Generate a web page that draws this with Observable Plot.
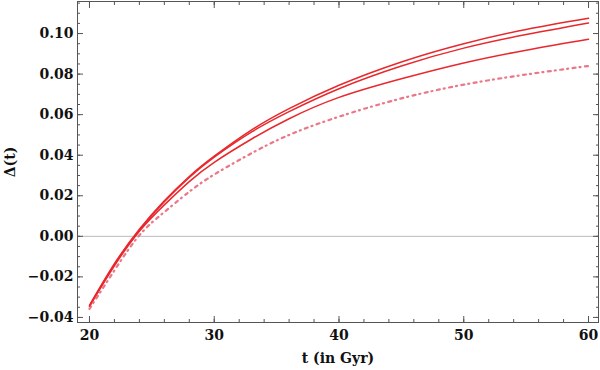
<!DOCTYPE html>
<html>
<head>
<meta charset="utf-8">
<script src="https://cdn.jsdelivr.net/npm/d3@7"></script>
<script src="https://cdn.jsdelivr.net/npm/@observablehq/plot@0.6"></script>
<style>
  html, body { margin: 0; padding: 0; background: #fff; }
</style>
</head>
<body>
<div id="chart"></div>
<script>
const tValues = [20, 22, 24, 26, 28, 30, 33, 36, 40, 45, 50, 55, 60];
const series1 = [-0.034, -0.0135, 0.0035, 0.0175, 0.0295, 0.0395, 0.0525, 0.063, 0.0745, 0.086, 0.0950, 0.1020, 0.1075];
const series2 = [-0.0345, -0.014, 0.003, 0.017, 0.029, 0.039, 0.0515, 0.0615, 0.0728, 0.084, 0.0928, 0.0995, 0.1052];
const series3 = [-0.0345, -0.0145, 0.0025, 0.0155, 0.027, 0.0365, 0.048, 0.058, 0.0685, 0.0777, 0.0855, 0.0918, 0.0972];
const series4 = [-0.0358, -0.0168, 0.0005, 0.012, 0.022, 0.0305, 0.041, 0.050, 0.059, 0.068, 0.0748, 0.0798, 0.0840];
const xMajor = [20, 30, 40, 50, 60];
const xMinor = [20, 22, 24, 26, 28, 30, 32, 34, 36, 38, 40, 42, 44, 46, 48, 50, 52, 54, 56, 58, 60];
const yMajor = [-0.04, -0.02, 0, 0.02, 0.04, 0.06, 0.08, 0.10];
const yMinor = d3.range(-0.04, 0.1151, 0.005).map(v => +v.toFixed(3));
const xLabel = "t (in Gyr)";
const yLabel = "Δ(t)";

const mk = (vals) => tValues.map((t, i) => ({t, v: vals[i]}));
const solid = [series1, series2, series3].map(mk);
const dashed = mk(series4);

const red = "#e8282c";
const fmt = d => (d < 0 ? "\u2212" : "") + Math.abs(d).toFixed(2);

const chart = Plot.plot({
  width: 600,
  height: 370,
  marginLeft: 77,
  marginRight: 2,
  marginTop: 1,
  marginBottom: 48,
  style: {fontFamily: "'DejaVu Serif', serif", fontSize: "14px", fontWeight: "bold", color: "#111", background: "#fff"},
  x: {domain: [19.04, 60.8]},
  y: {domain: [-0.0425, 0.1158]},
  marks: [
    Plot.ruleY([0], {stroke: "#bbb", strokeWidth: 1}),
    // minor ticks
    Plot.axisX({anchor: "bottom", ticks: xMinor, tickSize: -3, tickFormat: () => "", label: null, stroke: "#555"}),
    Plot.axisX({anchor: "top", ticks: xMinor, tickSize: -3, tickFormat: () => "", label: null, stroke: "#555"}),
    Plot.axisY({anchor: "left", ticks: yMinor, tickSize: -3, tickFormat: () => "", label: null, stroke: "#555"}),
    Plot.axisY({anchor: "right", ticks: yMinor, tickSize: -3, tickFormat: () => "", label: null, stroke: "#555"}),
    // major ticks
    Plot.axisX({anchor: "bottom", ticks: xMajor, tickSize: -6, tickFormat: () => "", label: null, stroke: "#555"}),
    Plot.axisX({anchor: "top", ticks: xMajor, tickSize: -6, tickFormat: () => "", label: null, stroke: "#555"}),
    Plot.axisY({anchor: "left", ticks: yMajor, tickSize: -6, tickFormat: () => "", label: null, stroke: "#555"}),
    Plot.axisY({anchor: "right", ticks: yMajor, tickSize: -6, tickFormat: () => "", label: null, stroke: "#555"}),
    // labels
    Plot.axisX({anchor: "bottom", ticks: xMajor, tickSize: 0, tickPadding: 8, tickFormat: d => String(d), label: xLabel, labelAnchor: "center", labelArrow: "none", labelOffset: 40}),
    Plot.axisY({anchor: "left", ticks: yMajor, tickSize: 0, tickPadding: 4, tickFormat: fmt, label: yLabel, labelAnchor: "center", labelArrow: "none", labelOffset: 72}),
    Plot.frame({stroke: "#555", strokeWidth: 1}),
    ...solid.map(d => Plot.line(d, {x: "t", y: "v", stroke: red, strokeWidth: 1.5, curve: "natural"})),
    Plot.line(dashed, {x: "t", y: "v", stroke: "#e8687a", strokeOpacity: 0.9, strokeWidth: 2.2, strokeDasharray: "3,4,1,4.5", curve: "natural"})
  ]
});
document.getElementById("chart").appendChild(chart);
</script>
</body>
</html>
